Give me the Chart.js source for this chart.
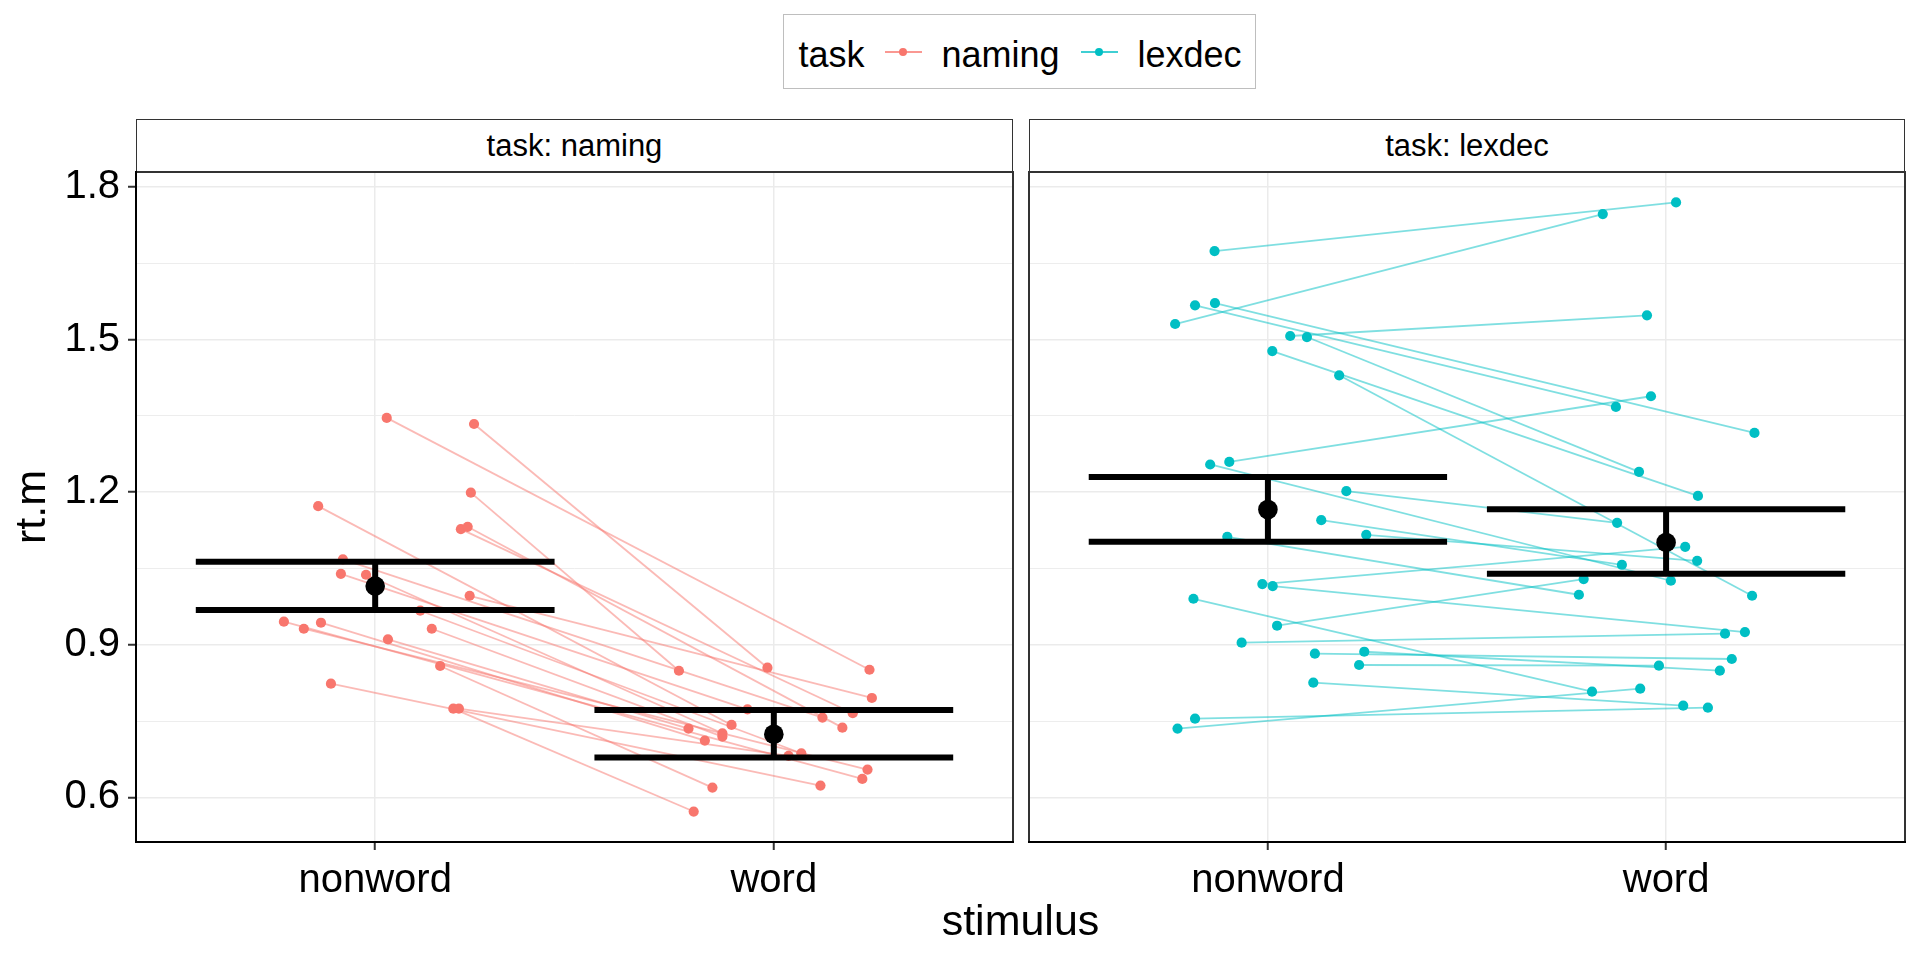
<!DOCTYPE html>
<html lang="en">
<head>
  <meta charset="UTF-8">
  <title>rt.m by stimulus and task</title>
  <script src="https://cdn.jsdelivr.net/npm/chart.js@4"></script>
  <style>
    * { box-sizing: border-box; }
    body { margin: 0; background: #fff; }
    #wrap { position: relative; width: 1920px; height: 960px; overflow: hidden; font-family: 'Liberation Sans', Arial, sans-serif; color: #000; }
    canvas { position: absolute; }
    .strip { position: absolute; top: 119px; height: 53px; border: 1.5px solid #333; border-bottom: none; background: #fff;
             display: flex; align-items: center; justify-content: center; font-size: 31px; }
    #legend { position: absolute; left: 783px; top: 14px; width: 473px; height: 75px; border: 1.5px solid #bebebe; }
    .lg-text { position: absolute; font-size: 36px; line-height: 41px; top: 18.5px; white-space: nowrap; }
    .lg-line { position: absolute; top: 36.2px; width: 37px; height: 1.6px; }
    .lg-dot { position: absolute; top: 32.7px; width: 8.5px; height: 8.5px; border-radius: 50%; }
    #xtitle { position: absolute; left: 136px; width: 1769px; top: 896px; text-align: center; font-size: 43px; line-height: 49px; }
  </style>
</head>
<body>
<div id="wrap">
  <div id="legend"></div>
  <div class="strip" style="left:136px;width:877px">task: naming</div>
  <div class="strip" style="left:1029px;width:876px">task: lexdec</div>
  <canvas id="naming" width="1020" height="800" style="left:0;top:160px"></canvas>
  <canvas id="lexdec" width="893" height="800" style="left:1022px;top:160px"></canvas>
  <div id="xtitle">stimulus</div>
</div>

<script>
// categories and y ticks
const stimulus = ['nonword', 'word'];
const tasks = ['naming', 'lexdec'];
const taskColors = ['#F8766D', '#00BFC4'];
const yTickValues = [0.6, 0.75, 0.9, 1.05, 1.2, 1.35, 1.5, 1.65, 1.8];
const yTickLabels = ['0.6', '', '0.9', '', '1.2', '', '1.5', '', '1.8'];

// naming: one entry per subject (mean rt and horizontal jitter for each stimulus)
const namingNonword = [1.346, 1.334, 1.199, 1.1725, 1.1273, 1.1319, 1.0678, 1.0396, 1.0377, 0.9964,
  0.967, 0.9454, 0.9434, 0.9316, 0.9316, 0.9107, 0.8584, 0.8236, 0.7745, 0.7745];
const namingNonwordJitter = [0.029, 0.248, 0.240, -0.143, 0.215, 0.232, -0.081, -0.086, -0.023, 0.237,
  0.113, -0.229, -0.136, -0.179, 0.142, 0.032, 0.163, -0.111, 0.196, 0.210];
const namingWord = [0.851, 0.855, 0.849, 0.7425, 0.7655, 0.7372, 0.7569, 0.7733, 0.7262, 0.7955,
  0.6869, 0.6365, 0.7117, 0.6548, 0.7196, 0.7353, 0.6194, 0.6233, 0.5723, 0.6816];
const namingWordJitter = [0.240, -0.016, -0.238, -0.106, 0.198, 0.172, 0.122, -0.066, -0.129, 0.246,
  0.069, 0.222, -0.173, 0.235, -0.129, -0.214, -0.154, 0.117, -0.201, 0.037];

// lexdec: one entry per subject
const lexdecNonword = [1.6738, 1.5672, 1.5717, 1.5305, 1.5069, 1.5049, 1.4774, 1.4297, 1.2544, 1.2595,
  1.202, 1.145, 1.1162, 1.1122, 1.0194, 1.0154, 0.9905, 0.9375, 0.9041, 0.8825,
  0.8864, 0.8603, 0.8256, 0.7549, 0.7353];
const lexdecNonwordJitter = [-0.134, -0.183, -0.133, -0.233, 0.056, 0.098, 0.011, 0.179, -0.145, -0.097,
  0.197, 0.134, 0.247, -0.102, -0.014, 0.012, -0.187, 0.023, -0.066, 0.118,
  0.242, 0.229, 0.114, -0.183, -0.227];
const lexdecWord = [1.7694, 1.3675, 1.3164, 1.7465, 1.5475, 1.2399, 1.1927, 0.9964, 1.0259, 1.3885,
  1.1397, 1.0573, 1.0651, 0.9984, 1.0926, 0.9251, 0.8079, 1.0292, 0.9218, 0.8721,
  0.8491, 0.859, 0.7804, 0.7765, 0.8138];
const lexdecWordJitter = [0.025, -0.126, 0.222, -0.159, -0.048, -0.068, 0.080, 0.216, 0.012, -0.038,
  -0.123, -0.111, 0.078, -0.219, 0.048, 0.198, -0.186, -0.207, 0.148, 0.165,
  0.135, -0.018, 0.043, 0.105, -0.065];

// summary per stimulus: mean and interval
const namingMean = [1.0154, 0.7242];
const namingLower = [0.9683, 0.6784];
const namingUpper = [1.0631, 0.7720];
const lexdecMean = [1.1660, 1.1012];
const lexdecLower = [1.1024, 1.0396];
const lexdecUpper = [1.2300, 1.1666];

const FONT = "'Liberation Sans', Arial, sans-serif";
const BAR_HALF = 0.45;
Chart.defaults.font.family = FONT;

// shared y range, ggplot style 5% expansion
const allY = [].concat(namingNonword, namingWord, lexdecNonword, lexdecWord,
  namingLower, namingUpper, lexdecLower, lexdecUpper);
const yLo = Math.min(...allY), yHi = Math.max(...allY);
const yPad = (yHi - yLo) * 0.05;

function alpha(hex, a) {
  const n = parseInt(hex.slice(1), 16);
  return `rgba(${n >> 16}, ${(n >> 8) & 255}, ${n & 255}, ${a})`;
}

/**
 * Legend: built from task names and colours (positions relative to the box)
 */
function buildLegend() {
  const lg = document.getElementById('legend');
  const left = 784.5;
  const parts = [`<span class="lg-text" style="left:${799 - left}px">task</span>`];
  const keyX = [885, 1081], textX = [942, 1138];
  tasks.forEach((t, i) => {
    parts.push(`<div class="lg-line" style="left:${keyX[i] - left}px;background:${alpha(taskColors[i], 0.75)}"></div>`);
    parts.push(`<div class="lg-dot" style="left:${keyX[i] + 18.5 - 4.25 - left}px;background:${taskColors[i]}"></div>`);
    parts.push(`<span class="lg-text" style="left:${textX[i] - left}px">${t}</span>`);
  });
  lg.innerHTML = parts.join('');
}

/**
 * Box around the panel, dark axis lines on the bottom (and left on the first panel)
 */
const panelBox = {
  id: 'panelBox',
  afterDraw(chart, args, opts) {
    const { ctx, chartArea: a } = chart;
    ctx.save();
    ctx.strokeStyle = '#333';
    ctx.lineWidth = 2;
    ctx.strokeRect(a.left, a.top, a.right - a.left, a.bottom - a.top);
    ctx.strokeStyle = '#000';
    ctx.beginPath();
    ctx.moveTo(a.left - 1, a.bottom);
    ctx.lineTo(a.right + 1, a.bottom);
    if (opts.leftAxis) {
      ctx.moveTo(a.left, a.top - 1);
      ctx.lineTo(a.left, a.bottom + 1);
    }
    ctx.stroke();
    ctx.restore();
  }
};

function blackLine(data) {
  return { data, showLine: true, borderColor: '#000', borderWidth: 6, borderCapStyle: 'butt',
           pointRadius: 0, order: 0 };
}

function panelDatasets(nw, nwJit, w, wJit, color, mean, lower, upper) {
  const sets = [];
  // error bars and means on top
  stimulus.forEach((s, i) => {
    const x = i + 1;
    sets.push(blackLine([{ x: x - BAR_HALF, y: upper[i] }, { x: x + BAR_HALF, y: upper[i] }]));
    sets.push(blackLine([{ x: x - BAR_HALF, y: lower[i] }, { x: x + BAR_HALF, y: lower[i] }]));
    sets.push(blackLine([{ x, y: lower[i] }, { x, y: upper[i] }]));
  });
  sets.push({ data: mean.map((m, i) => ({ x: i + 1, y: m })), pointRadius: 9.8,
              pointBackgroundColor: '#000', pointBorderWidth: 0, order: 0 });
  // subject points
  sets.push({
    data: nw.map((v, i) => ({ x: 1 + nwJit[i], y: v })).concat(w.map((v, i) => ({ x: 2 + wJit[i], y: v }))),
    pointRadius: 5.1, pointBackgroundColor: color, pointBorderWidth: 0, order: 1
  });
  // subject lines
  nw.forEach((v, i) => {
    sets.push({ data: [{ x: 1 + nwJit[i], y: v }, { x: 2 + wJit[i], y: w[i] }], showLine: true,
                borderColor: alpha(color, 0.5), borderWidth: 1.8, pointRadius: 0, order: 2 });
  });
  return sets;
}

function makePanel(id, datasets, first) {
  const isMajor = i => yTickLabels[i] !== '';
  return new Chart(document.getElementById(id), {
    type: 'scatter',
    data: { datasets },
    options: {
      responsive: false,
      animation: false,
      events: [],
      devicePixelRatio: 1,
      layout: { autoPadding: false, padding: { top: 12, right: first ? 7 : 10, bottom: 0, left: first ? 0 : 7 } },
      plugins: { legend: { display: false }, tooltip: { enabled: false }, panelBox: { leftAxis: first } },
      scales: {
        x: {
          type: 'linear', min: 0.4, max: 2.6,
          afterBuildTicks: s => { s.ticks = stimulus.map((_, i) => ({ value: i + 1 })); },
          afterFit: s => { s.height = 118; s.paddingLeft = 0; s.paddingRight = 0; },
          ticks: { callback: (v, i) => stimulus[i], color: '#000', font: { size: 40 }, padding: 7,
                   maxRotation: 0, autoSkip: false },
          grid: { color: '#EBEBEB', lineWidth: 1.5, tickColor: '#333', tickLength: 8, tickWidth: 2 },
          border: { display: false }
        },
        y: {
          type: 'linear', min: yLo - yPad, max: yHi + yPad,
          afterBuildTicks: s => { s.ticks = yTickValues.map(v => ({ value: v })); },
          afterFit: s => { s.width = first ? 136 : 0; s.paddingTop = 0; s.paddingBottom = 0; },
          ticks: { display: first, callback: (v, i) => yTickLabels[i], color: '#000', font: { size: 40 },
                   padding: 8, autoSkip: false },
          grid: {
            color: '#EBEBEB',
            lineWidth: ctx => isMajor(ctx.index) ? 1.5 : 0.9,
            drawTicks: first,
            tickColor: ctx => isMajor(ctx.index) ? '#333' : 'rgba(0,0,0,0)',
            tickLength: 8, tickWidth: 2
          },
          border: { display: false },
          title: { display: first, text: 'rt.m', color: '#000', font: { size: 43 }, padding: { top: 7 } }
        }
      }
    },
    plugins: [panelBox]
  });
}

buildLegend();
makePanel('naming', panelDatasets(namingNonword, namingNonwordJitter, namingWord, namingWordJitter,
  taskColors[0], namingMean, namingLower, namingUpper), true);
makePanel('lexdec', panelDatasets(lexdecNonword, lexdecNonwordJitter, lexdecWord, lexdecWordJitter,
  taskColors[1], lexdecMean, lexdecLower, lexdecUpper), false);
</script>
</body>
</html>
